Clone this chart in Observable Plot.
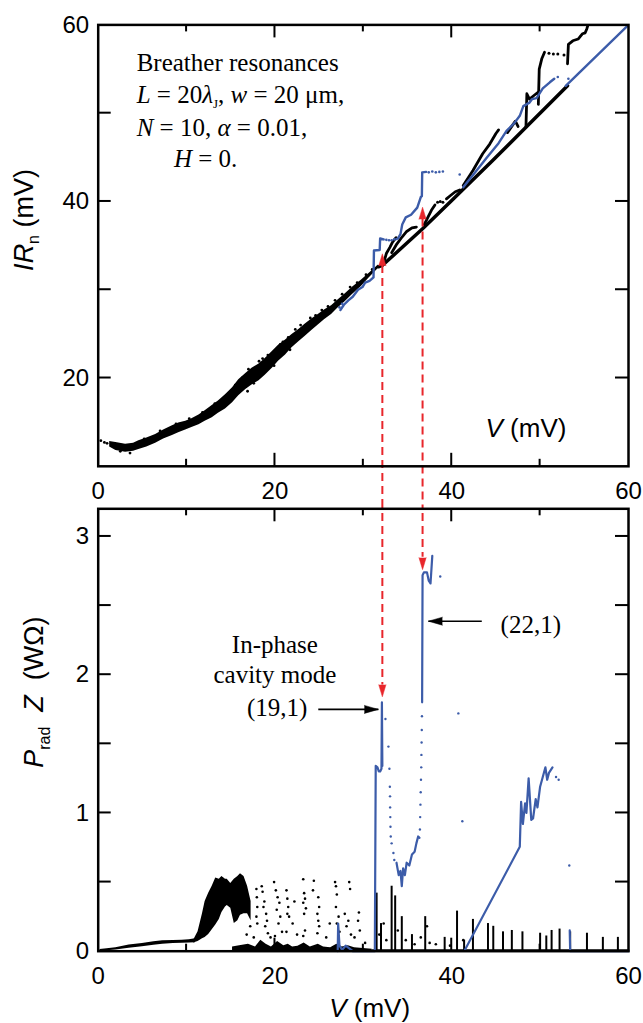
<!DOCTYPE html>
<html><head><meta charset="utf-8">
<script src="https://cdn.jsdelivr.net/npm/d3@7"></script>
<script src="https://cdn.jsdelivr.net/npm/@observablehq/plot@0.6"></script>
<style>
html,body{margin:0;padding:0;background:#fff;}
#chart{width:643px;}
#chart svg{display:block;}
</style></head><body><div id="chart"></div>
<script>
// ---------------- scale domains & tick values ----------------
const xDomain = [0, 60];
const topYDomain = [10, 60];
const botYDomain = [0, 3.2];
const xTickLabels = [0, 20, 40, 60];
const xTicksMajor = [20, 40];
const xTicksMinor = [10, 30, 50];
const topYTickLabels = [20, 40, 60];
const topYTicks = [20, 30, 40, 50];
const botYTickLabels = [0, 1, 2, 3];
const botYTicks = [0.5, 1, 1.5, 2, 2.5, 3];

// ---------------- top panel: IR_n vs V ----------------
// dense black scatter band (lower / upper envelope)
const bandV  = [1.3, 2.0, 3.1, 4.0, 4.6, 5.5, 6.5, 7.4, 8.4, 9.1, 9.9, 10.6, 11.4, 12.1, 12.9, 13.6, 14.4, 15.2, 15.9, 16.7, 17.4, 18.2, 18.9, 19.7, 20.4, 21.2, 21.9, 22.7, 23.4, 24.2, 24.9, 25.6, 26.4, 27.1, 27.9, 28.8, 29.8, 30.7, 31.7];
const bandLo = [12.2, 11.8, 11.6, 11.7, 11.9, 12.2, 12.6, 13.1, 13.5, 13.8, 14.1, 14.4, 14.7, 15.1, 15.5, 16.0, 16.5, 17.2, 18.0, 18.7, 19.2, 19.7, 20.3, 21.1, 21.9, 22.6, 23.4, 24.1, 24.7, 25.4, 26.0, 26.6, 27.2, 27.9, 28.6, 29.5, 30.4, 31.4, 32.4];
const bandHi = [12.8, 12.7, 12.5, 12.6, 12.9, 13.2, 13.6, 14.1, 14.6, 14.9, 15.1, 15.4, 15.8, 16.3, 16.9, 17.4, 18.1, 18.9, 19.8, 20.5, 21.1, 21.6, 22.2, 23.0, 23.7, 24.3, 24.9, 25.5, 26.1, 26.7, 27.2, 27.7, 28.2, 28.8, 29.5, 30.3, 31.1, 31.9, 32.8];
// stray black points around the band
const topDots = [[0.3,12.9],[0.7,12.7],[1.0,12.6],[13.2,17.1],[14.9,18.1],[16.3,20.0],[17.0,21.0],[17.6,19.4],[18.6,22.2],[19.2,22.6],[19.9,21.4],[20.6,23.8],[21.5,24.6],[22.3,25.5],[22.9,26.0],[23.9,26.3],[24.6,27.1],[25.3,27.7],[26.0,28.1],[26.8,28.8],[27.6,29.5],[28.5,30.3],[29.3,30.8],[30.3,31.7],[31.0,32.3],[11.8,16.1],[10.3,15.4],[8.8,14.8],[7.0,14.0],[5.2,13.1],[3.6,11.5],[2.5,11.7],[15.5,19.2],[18.2,21.9],[20.9,24.1],[24.0,26.8],[16.9,18.5],[21.7,23.2]];
// black lower (ohmic-like) branch
const blkLine = [[31.7,32.6],[32.2,32.8],[34.5,34.9],[36.7,36.9],[40.0,40.1],[44.6,44.6],[48.4,48.4],[53.1,53.1]];
// black upper branches (resonance steps)
const blkA = [[32.3,33.0],[32.6,34.1],[33.0,34.8],[33.3,35.4],[33.7,35.9]];
const blkB = [[33.2,34.2],[33.8,35.2],[34.4,36.0],[34.9,36.6],[35.5,37.0],[36.0,37.1]];
const blkC = [[36.9,37.4],[37.3,38.2],[37.7,39.0],[38.1,39.6]];
const blkD = [[39.4,40.3],[39.9,40.7],[40.4,41.1],[40.9,41.3]];
const blkE = [[41.3,41.8],[42.4,43.5],[43.5,45.4],[44.3,46.5],[45.0,47.7],[45.3,48.1]];
const blkF = [[46.3,47.8],[47.2,49.1],[47.5,48.5]];
const blkG = [[48.4,48.5],[48.5,52.2],[48.8,51.6],[49.3,52.0],[49.8,52.4]];
const blkH = [[49.8,51.0],[49.9,55.0],[50.2,56.2],[50.5,56.9]];
const blkI = [[53.1,55.6],[53.2,57.8],[53.7,58.2],[54.3,58.4],[54.8,59.0],[55.1,59.1],[55.3,59.6],[55.6,60.6]];
const blkTopDots = [[38.4,39.9],[38.7,40.0],[39.0,39.9],[51.0,56.8],[51.5,56.7],[52.0,56.7],[52.7,56.6]];
// blue branch (in-phase cavity mode)
const bluT1 = [[27.4,27.7],[27.8,28.3],[28.3,28.8],[28.8,29.2],[29.4,30.0],[29.9,30.3],[30.2,30.8],[30.7,31.0],[31.15,31.4],[31.2,34.45],[31.85,34.5],[31.9,35.8],[32.3,35.7]];
const bluT2 = [[33.9,35.8],[34.2,36.3],[34.4,37.4],[34.8,38.2],[35.4,38.5],[36.1,39.3],[36.5,40.5],[36.62,40.6],[36.66,43.3],[37.1,43.35]];
const bluT3 = [[41.3,41.6],[42.5,43.1],[44.0,45.0],[45.3,46.6],[46.2,48.0],[47.1,48.9],[47.7,49.7],[48.1,50.8],[48.8,51.2],[49.1,51.6],[49.6,51.7],[50.3,52.8],[51.1,53.5],[51.6,53.9]];
const bluT4 = [[52.9,53.1],[60,60]];
const bluTopDots = [[27.3,28.0],[27.6,28.4],[32.6,35.65],[32.9,35.6],[33.2,35.6],[33.5,35.7],[33.75,35.75],[37.4,43.3],[37.8,43.4],[38.2,43.3],[38.6,43.35],[39.0,43.4],[40.9,43.05],[52.0,54.1],[53.2,53.9]];

// resonance markers (red): voltage, tip/base in top (IR) and bottom (P) panels
const resV = [32.15, 36.7];
const resTopTip = [34.07, 39.35];
const resTopBase = [32.75, 38.0];
const resBotTip = [1.84, 2.76];
const resBotBase = [1.925, 2.85];

// ---------------- bottom panel: P_rad Z vs V ----------------
const baseV  = [0.2, 1.0, 2.0, 3.5, 5.0, 6.3, 7.3, 8.5, 9.5, 10.3, 11.0];
const baseLo = [0.0, 0.003, 0.008, 0.022, 0.033, 0.043, 0.05, 0.055, 0.058, 0.06, 0.062];
const baseHi = [0.012, 0.018, 0.025, 0.045, 0.056, 0.068, 0.075, 0.078, 0.08, 0.083, 0.09];
const cloudV  = [10.8, 11.3, 11.8, 12.1, 12.5, 12.9, 13.3, 13.7, 14.0, 14.4, 14.6, 15.0, 15.4, 15.8, 16.1, 16.5, 16.9, 17.3];
const cloudHi = [0.08, 0.14, 0.27, 0.36, 0.42, 0.47, 0.53, 0.52, 0.54, 0.52, 0.52, 0.49, 0.52, 0.54, 0.56, 0.54, 0.47, 0.36];
const cloudLo = [0.06, 0.07, 0.09, 0.10, 0.12, 0.155, 0.19, 0.23, 0.28, 0.32, 0.33, 0.31, 0.20, 0.22, 0.26, 0.27, 0.27, 0.22];
const floorV  = [15.2, 16.0, 17.0, 17.8, 18.4, 19.0, 19.6, 20.3, 21.0, 21.5, 22.0, 22.6, 23.3, 24.0, 24.9, 25.5, 26.3, 27.0, 27.6, 28.3, 29.0, 30.0, 31.0];
const floorHi = [0.03, 0.04, 0.05, 0.03, 0.08, 0.05, 0.03, 0.07, 0.04, 0.05, 0.03, 0.035, 0.06, 0.03, 0.05, 0.03, 0.025, 0.05, 0.03, 0.04, 0.025, 0.02, 0.015];
const botDots = [[17.9,0.45],[17.95,0.39],[18.0,0.32],[17.9,0.25],[18.0,0.2],[18.5,0.47],[18.6,0.43],[18.8,0.36],[18.7,0.32],[19.0,0.27],[19.1,0.22],[18.9,0.18],[19.2,0.13],[19.9,0.50],[20.1,0.44],[20.3,0.39],[20.5,0.35],[20.2,0.30],[20.6,0.25],[20.4,0.20],[20.8,0.14],[20.0,0.11],[21.3,0.44],[21.4,0.38],[21.5,0.32],[21.4,0.27],[21.6,0.25],[21.3,0.14],[23.2,0.52],[23.3,0.42],[23.4,0.38],[23.2,0.35],[23.5,0.31],[23.3,0.27],[23.4,0.15],[23.2,0.11],[24.9,0.39],[25.0,0.32],[24.8,0.27],[24.9,0.22],[25.0,0.18],[24.8,0.13],[26.8,0.50],[26.9,0.47],[27.0,0.41],[26.9,0.32],[27.2,0.25],[27.0,0.20],[27.3,0.14],[27.9,0.27],[28.3,0.22],[28.1,0.18],[28.6,0.12],[28.4,0.50],[28.5,0.45],[29.5,0.28],[29.4,0.22],[29.6,0.15],[17.2,0.18],[17.6,0.1],[16.8,0.12],[19.5,0.1],[22.2,0.36],[22.0,0.2],[22.5,0.12],[24.4,0.51],[24.3,0.44],[25.8,0.1],[26.2,0.2],[29.0,0.1],[30.2,0.06],[31.8,0.12],[32.3,0.2],[32.6,0.08],[33.9,0.15],[34.8,0.08],[35.8,0.05],[36.5,0.1],[37.2,0.18],[37.5,0.06],[38.2,0.05],[39.8,0.04],[41.3,0.08]];
const spikeV = [31.5, 32.0, 33.2, 33.6, 34.35, 35.5, 37.0, 39.2, 40.6, 41.4, 42.4, 44.1, 44.7, 45.8, 46.8, 48.0, 50.0, 50.7, 51.3, 52.2, 53.4, 55.3, 57.1, 58.8];
const spikeP = [0.42, 0.2, 0.47, 0.40, 0.25, 0.12, 0.25, 0.10, 0.29, 0.08, 0.23, 0.20, 0.18, 0.14, 0.15, 0.14, 0.13, 0.11, 0.15, 0.16, 0.14, 0.13, 0.10, 0.10];
const blkFloor = [[31.0,0.006],[60,0.006]];
const bluB1 = [[27.1,0.0],[27.15,0.2],[27.3,0.04],[27.6,0.01],[28.0,0.04],[28.4,0.02],[28.8,0.0],[31.3,0.0],[31.4,1.34],[31.6,1.33],[31.75,1.30],[31.9,1.30],[32.05,1.32],[32.1,1.80],[32.15,1.34]];
const bluB2 = [[33.75,0.64],[34.0,0.55],[34.2,0.58],[34.35,0.47],[34.5,0.60],[34.7,0.55],[34.9,0.64],[35.2,0.62],[35.5,0.70],[35.8,0.72],[36.0,0.78],[36.2,0.83],[36.35,0.82]];
const bluB3 = [[36.65,1.80],[36.7,2.72],[36.85,2.74],[37.2,2.74],[37.4,2.68],[37.6,2.66],[37.8,2.86]];
const bluB4 = [[41.5,0.01],[47.7,0.755],[47.85,1.08],[48.05,0.92],[48.3,1.07],[48.45,1.0],[48.7,1.25],[49.0,0.95],[49.2,0.96],[49.5,1.1],[49.7,1.04],[50.0,1.19],[50.6,1.33],[50.8,1.24],[51.0,1.29],[51.4,1.33]];
const bluB5 = [[53.35,0.15],[53.4,0.0],[60,0.0]];
const bluBotDots = [[32.5,1.68],[32.84,1.48],[32.95,1.32],[33.0,1.19],[33.02,1.12],[33.03,1.04],[33.05,0.97],[33.07,0.90],[33.1,0.83],[33.2,0.78],[33.4,0.71],[33.5,0.66],[36.4,0.88],[36.43,0.97],[36.46,1.06],[36.49,1.15],[36.52,1.24],[36.55,1.33],[36.57,1.42],[36.59,1.51],[36.61,1.60],[36.63,1.70],[38.7,2.71],[40.75,1.72],[41.2,0.94],[53.3,0.62],[51.8,1.26],[52.1,1.24]];
// annotation arrows (black): [from V, to V, at P]
const noteArrows = [[24.9, 31.7, 1.749], [43.4, 37.36, 2.387]];

// ---------------- styling ----------------
const SANS = "'Liberation Sans', Arial, Helvetica, sans-serif";
const SERIF = "'Liberation Serif', 'Times New Roman', serif";
const BLUE = "#3c5ca9";
const RED = "#e8262b";
const pts = a => a.map(([x, y]) => ({x, y}));
const lineMk = (a, o) => Plot.line(pts(a), {x: "x", y: "y", ...o});

const bandRows = bandV.map((v, i) => ({v, lo: bandLo[i], hi: bandHi[i]}));
const resRows = resV.map((v, i) => ({v, tt: resTopTip[i], tb: resTopBase[i], bt: resBotTip[i], bb: resBotBase[i]}));

const W = 643, ML = 97.7, MR = 15, TK = 13, TKm = 7;
const topH = 505, topMT = 24.4, topMB = 39.2;
const botH = 518, botMT = 3.3, botMB = 72.3;
const common = {width: W, marginLeft: ML, marginRight: MR,
  style: {fontFamily: SANS, fontSize: "24px", background: "white", color: "black"}};

const topPlot = Plot.plot({
  ...common, height: topH, marginTop: topMT, marginBottom: topMB,
  x: {domain: xDomain}, y: {domain: topYDomain},
  marks: [
    Plot.areaY(bandRows, {x: "v", y1: "lo", y2: "hi", fill: "black"}),
    Plot.dot(pts(topDots), {x: "x", y: "y", r: 1.4, fill: "black"}),
    lineMk(blkLine, {stroke: "black", strokeWidth: 3.5}),
    ...[blkA, blkB, blkC, blkD, blkE, blkF, blkG, blkH, blkI].map(a => lineMk(a, {stroke: "black", strokeWidth: 2.8, clip: true})),
    Plot.dot(pts(blkTopDots), {x: "x", y: "y", r: 1.5, fill: "black"}),
    ...[bluT1, bluT2, bluT3, bluT4].map(a => lineMk(a, {stroke: BLUE, strokeWidth: 2.4, clip: true})),
    Plot.dot(pts(bluTopDots), {x: "x", y: "y", r: 1.3, fill: BLUE}),
    Plot.ruleX(resRows, {x: "v", y1: "tb", y2: 5.4, stroke: RED, strokeWidth: 2, strokeDasharray: "8,5"}),
    Plot.vector(resRows, {x: "v", y: "tt", length: 12, rotate: 0, anchor: "end", shape: "spike", r: 3.6, fill: RED, stroke: RED, strokeWidth: 0.5, fillOpacity: 1}),
    Plot.frame({strokeWidth: 2.5}),
    Plot.axisX(xTickLabels, {anchor: "bottom", tickSize: 0, tickPadding: 16, label: null}),
    Plot.axisY(topYTickLabels, {anchor: "left", tickSize: 0, tickPadding: 9, label: null})
  ]
});

const baseRows = baseV.map((v, i) => ({v, lo: baseLo[i], hi: baseHi[i]}));
const cloudRows = cloudV.map((v, i) => ({v, lo: cloudLo[i], hi: cloudHi[i]}));
const floorRows = floorV.map((v, i) => ({v, hi: floorHi[i]}));
const spikeRows = spikeV.map((v, i) => ({v, p: spikeP[i]}));
const arrowRows = noteArrows.map(([a, b, p]) => ({a, b, p, rot: b > a ? 90 : -90}));

const botPlot = Plot.plot({
  ...common, height: botH, marginTop: botMT, marginBottom: botMB,
  x: {domain: xDomain}, y: {domain: botYDomain},
  marks: [
    Plot.areaY(baseRows, {x: "v", y1: "lo", y2: "hi", fill: "black"}),
    Plot.areaY(cloudRows, {x: "v", y1: "lo", y2: "hi", fill: "black"}),
    Plot.areaY(floorRows, {x: "v", y1: 0, y2: "hi", fill: "black"}),
    Plot.dot(pts(botDots), {x: "x", y: "y", r: 1.3, fill: "black"}),
    Plot.ruleX(spikeRows, {x: "v", y1: 0, y2: "p", stroke: "black", strokeWidth: 2}),
    lineMk(blkFloor, {stroke: "black", strokeWidth: 2}),
    ...[bluB1, bluB2, bluB3, bluB4, bluB5].map(a => lineMk(a, {stroke: BLUE, strokeWidth: 2.2})),
    Plot.dot(pts(bluBotDots), {x: "x", y: "y", r: 1.2, fill: BLUE}),
    Plot.ruleX(resRows, {x: "v", y1: 3.26, y2: "bb", stroke: RED, strokeWidth: 2, strokeDasharray: "8,5"}),
    Plot.vector(resRows, {x: "v", y: "bt", length: 12, rotate: 180, anchor: "end", shape: "spike", r: 3.6, fill: RED, stroke: RED, strokeWidth: 0.5, fillOpacity: 1}),
    Plot.link(arrowRows, {x1: "a", x2: "b", y1: "p", y2: "p", stroke: "black", strokeWidth: 1.6}),
    Plot.vector(arrowRows, {x: "b", y: "p", length: 14, rotate: "rot", anchor: "end", shape: "spike", r: 4, fill: "black", stroke: "black", strokeWidth: 0.5, fillOpacity: 1}),
    Plot.frame({strokeWidth: 2.5}),
    Plot.axisX(xTickLabels, {anchor: "bottom", tickSize: 0, tickPadding: 15.5, label: null}),
    Plot.axisY(botYTickLabels, {anchor: "left", tickSize: 0, tickPadding: 9, tickFormat: d3.format("d"), label: null})
  ]
});

const tx = topPlot.scale("x"), ty = topPlot.scale("y");
const bx = botPlot.scale("x"), by = botPlot.scale("y");

// ---------------- inward frame ticks (filled bars), positioned through the plot scales ----------------
function inwardTicks(svg, sx, sy, yTicks, yd) {
  const g = d3.select(svg).append("g").attr("fill", "#000").attr("stroke", "none");
  const x0 = sx.apply(xDomain[0]), x1 = sx.apply(xDomain[1]);
  const yB = sy.apply(yd[0]), yT = sy.apply(yd[1]);
  const xt = [...xTicksMajor.map(v => [v, TK]), ...xTicksMinor.map(v => [v, TKm])];
  for (const [v, len] of xt) {
    const x = sx.apply(v);
    g.append("rect").attr("x", x - 1).attr("width", 2).attr("y", yB - len).attr("height", len);
    g.append("rect").attr("x", x - 1).attr("width", 2).attr("y", yT).attr("height", len);
  }
  for (const v of yTicks) {
    const y = sy.apply(v);
    g.append("rect").attr("y", y - 1).attr("height", 2).attr("x", x0).attr("width", TK);
    g.append("rect").attr("y", y - 1).attr("height", 2).attr("x", x1 - TK).attr("width", TK);
  }
}
inwardTicks(topPlot, tx, ty, topYTicks, topYDomain);
inwardTicks(botPlot, bx, by, botYTicks, botYDomain);

// ---------------- rich text (italics / subscripts) ----------------
function rich(svg, x, y, parts, {size, family, anchor = "start", rotate = 0}) {
  const t = d3.select(svg).append("text")
    .attr("x", x).attr("y", y)
    .attr("font-family", family).attr("font-size", size)
    .attr("text-anchor", anchor).attr("fill", "#000");
  if (rotate) t.attr("transform", `rotate(${rotate},${x},${y})`);
  let shift = 0;
  for (const p of parts) {
    const s = t.append("tspan").text(p.t);
    if (p.i) s.attr("font-style", "italic");
    const want = p.sub ? p.shift : 0;
    if (want !== shift) { s.attr("dy", want - shift); shift = want; }
    if (p.sub) s.attr("font-size", p.sub);
  }
}

// top-panel legend text [V, IR] anchors
const noteTop = [[4.41, 54.76], [4.41, 51.13], [4.41, 47.36], [8.62, 43.82]];
const nt = noteTop.map(([v, r]) => [tx.apply(v), ty.apply(r)]);
const sopt = {size: 25, family: SERIF};
rich(topPlot, ...nt[0], [{t: "Breather resonances"}], sopt);
rich(topPlot, ...nt[1], [{t: "L", i: 1}, {t: " = 20"}, {t: "λ", i: 1}, {t: "J", sub: 13, shift: 5}, {t: ", "}, {t: "w", i: 1}, {t: " = 20 μm,"}], sopt);
rich(topPlot, ...nt[2], [{t: "N", i: 1}, {t: " = 10, "}, {t: "α", i: 1}, {t: " = 0.01,"}], sopt);
rich(topPlot, ...nt[3], [{t: "H", i: 1}, {t: " = 0."}], sopt);
// axis titles
rich(topPlot, tx.apply(43.88), ty.apply(13.31), [{t: "V", i: 1}, {t: " (mV)"}], {size: 26, family: SANS});
rich(topPlot, tx.apply(-7.31), ty.apply(37.85), [{t: "IR", i: 1}, {t: "n", sub: 16, shift: 6}, {t: " (mV)"}], {size: 27, family: SANS, anchor: "middle", rotate: -90});
rich(botPlot, bx.apply(30.77), by.apply(-0.48), [{t: "V", i: 1}, {t: " (mV)"}], {size: 26, family: SANS, anchor: "middle"});
rich(botPlot, bx.apply(-6.2), by.apply(1.87), [{t: "P", i: 1}, {t: "rad", sub: 16, shift: 7}, {t: "  Z", i: 1}, {t: "  (WΩ)"}], {size: 27, family: SANS, anchor: "middle", rotate: -90});
// bottom-panel annotations [V, P]
const notesBot = [["In-phase", 20.05, 2.153], ["cavity mode", 20.05, 1.936], ["(19,1)", 20.3, 1.695], ["(22,1)", 49.0, 2.30]];
for (const [s, v, p] of notesBot) rich(botPlot, bx.apply(v), by.apply(p), [{t: s}], {size: 25, family: SERIF, anchor: "middle"});

const root = document.getElementById("chart");
root.append(topPlot, botPlot);
</script></body></html>
